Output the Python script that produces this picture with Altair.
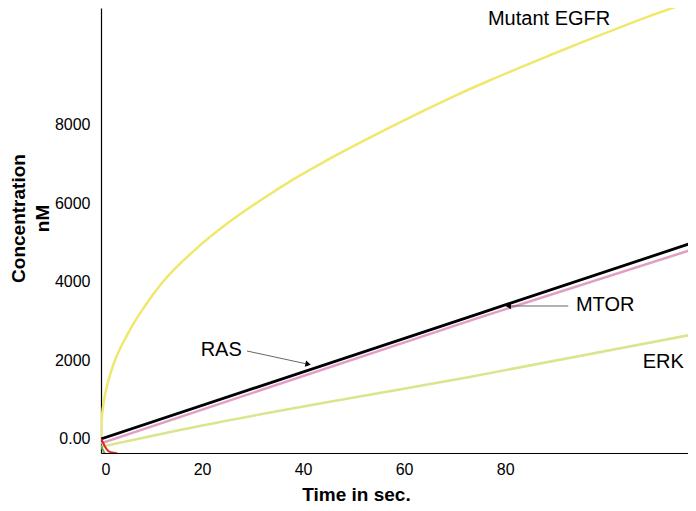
import altair as alt
import pandas as pd

# ---- data ----
egfr_t = [0, 0.15, 0.5, 1.0, 2.1, 5.3, 8.7, 12.1, 18.6, 25.1, 31.9, 38.4, 44.0, 50.7, 57.2, 63.8, 70.5, 77.0, 88.9, 95.4, 102.2, 108.7, 116.6]
egfr_c = [0, 480, 900, 1250, 1760, 2680, 3390, 3980, 4820, 5500, 6110, 6640, 7050, 7510, 7940, 8360, 8770, 9140, 9780, 10120, 10460, 10780, 11134]

ras_t = [0, 75, 117.6]
ras_c = [0, 3202, 5020]

mtor_t = [0, 75, 117.6]
mtor_c = [-110, 3100, 4850]

erk_t = [0, 15.6, 75, 116.6]
erk_c = [-200, 229, 1631, 2650]

red_t = [0, 0.14, 0.8, 1.45, 2.2, 2.8, 3.2]
red_c = [0, -25, -197, -306, -345, -357, -365]

green_t = [0, 0.3, 0.6, 0.8]
green_c = [-150, -260, -340, -380]

x_ticks = [0, 20, 40, 60, 80]
y_ticks = [0, 2000, 4000, 6000, 8000]

labels_text = ["Mutant EGFR", "RAS", "MTOR", "ERK"]
labels_x = [88.7, 23.8, 99.8, 111.3]
labels_y = [10700, 2268, 3414, 1962]

arrow_x = [28.9, 92.5]
arrow_y = [2242, 3389]
arrow_x2 = [41.0, 80.6]
arrow_y2 = [1905, 3389]
head_shape = ["triangle-right", "triangle-left"]
head_angle = [12, 0]

X_DOMAIN = [0, 116.2]
Y_DOMAIN = [-357, 10981]

series = [
    ("Mutant EGFR", egfr_t, egfr_c, "#efe86c", 2.5, "monotone"),
    ("RAS", ras_t, ras_c, "#000000", 2.8, "linear"),
    ("MTOR", mtor_t, mtor_c, "#e29fc6", 2.5, "linear"),
    ("ERK", erk_t, erk_c, "#dde48e", 2.5, "monotone"),
    ("red", red_t, red_c, "#e0261f", 2.0, "monotone"),
    ("green", green_t, green_c, "#6cb04a", 2.0, "monotone"),
]

x_scale = alt.Scale(domain=X_DOMAIN, nice=False, zero=False)
y_scale = alt.Scale(domain=Y_DOMAIN, nice=False, zero=False)

FONT = "Liberation Sans"

x_axis = alt.Axis(
    values=x_ticks, title="Time in sec.", grid=False, ticks=False,
    domainColor="black", domainWidth=1.2, labelFont=FONT, labelFontSize=16,
    labelColor="black", labelPadding=8, titleFont=FONT, titleFontSize=19,
    titleFontWeight="bold", titleColor="black", titleX=255, titleY=47,
    titleBaseline="alphabetic", titleAlign="center",
)
y_axis = alt.Axis(
    values=y_ticks, title=["Concentration", "nM"], grid=False, ticks=False,
    domainColor="black", domainWidth=1.2, labelFont=FONT, labelFontSize=16,
    labelColor="black", labelPadding=11,
    labelExpr="datum.value == 0 ? '0.00' : format(datum.value, 'd')",
    titleFont=FONT, titleFontSize=19, titleFontWeight="bold", titleColor="black",
    titleX=-92, titleY=210, titleAlign="center", titleBaseline="top",
    titleLineHeight=24, titleAngle=270,
)

X = lambda f: alt.X(f, scale=x_scale, axis=x_axis)
Y = lambda f: alt.Y(f, scale=y_scale, axis=y_axis)

layers = []
for name, t, c, color, w, interp in series:
    df = pd.DataFrame({"t": t, "c": c})
    ch = alt.Chart(df).mark_line(color=color, strokeWidth=w, clip=True, interpolate=interp).encode(
        x=X("t:Q"), y=Y("c:Q"),
    )
    layers.append(ch)

lab_df = pd.DataFrame({"x": labels_x, "y": labels_y, "text": labels_text})
labels = alt.Chart(lab_df).mark_text(font=FONT, fontSize=20, color="black", align="center", baseline="middle").encode(
    x=X("x:Q"), y=Y("y:Q"), text="text:N",
)

arr_df = pd.DataFrame({"x": arrow_x, "y": arrow_y, "x2": arrow_x2, "y2": arrow_y2,
                       "shape": head_shape, "angle": head_angle})
arrows = alt.Chart(arr_df).mark_rule(color="#555555", strokeWidth=0.9).encode(
    x=X("x:Q"), y=Y("y:Q"), x2="x2:Q", y2="y2:Q",
)
heads = alt.Chart(arr_df).mark_point(filled=True, color="black", size=40, opacity=1).encode(
    x=X("x2:Q"), y=Y("y2:Q"),
    shape=alt.Shape("shape:N", scale=None),
    angle=alt.Angle("angle:Q", scale=None),
)

chart = alt.layer(*layers, arrows, heads, labels).properties(
    width=587, height=445,
    autosize=alt.AutoSizeParams(type="none"),
    padding={"left": 93, "top": 0, "right": 0, "bottom": 50},
    background="white",
).configure_view(stroke=None)

chart.save("out.html", embed_options={"renderer": "svg", "actions": False})
